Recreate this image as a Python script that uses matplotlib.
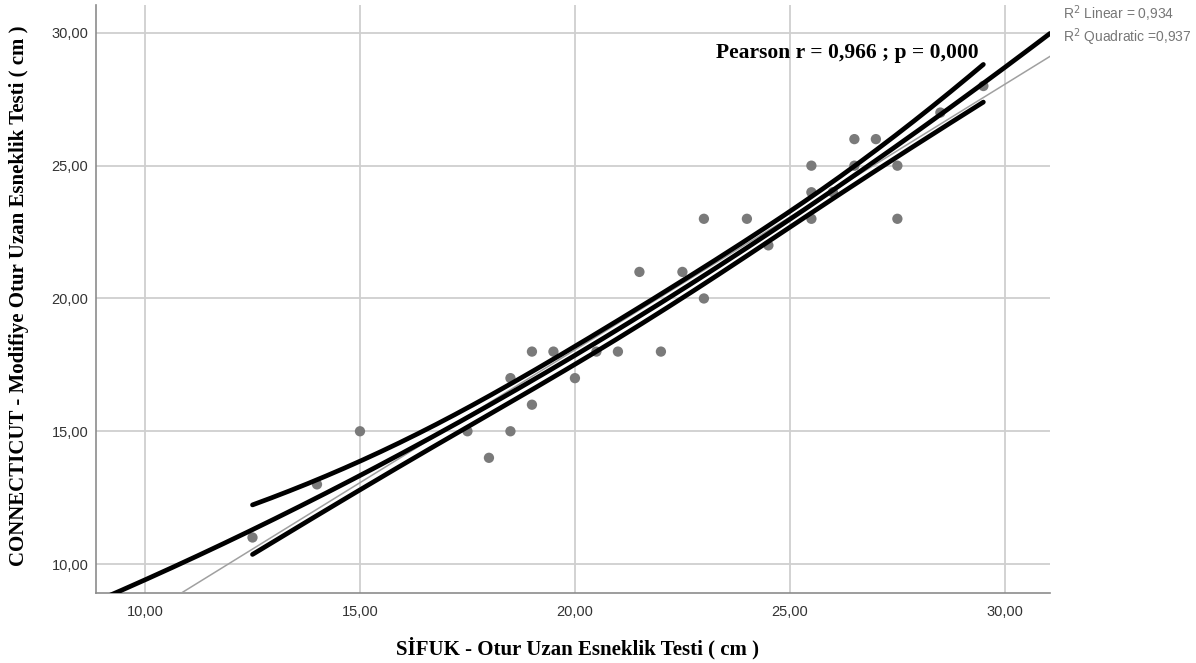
import numpy as np
import matplotlib
matplotlib.use("Agg")
import matplotlib.pyplot as plt
from matplotlib.ticker import FixedLocator, FuncFormatter

# ---- data ----
sifuk = [12.5, 14, 15, 17.5, 18, 18.5, 18.5, 19, 19, 19.5, 20, 20.5, 21, 21.5,
         22, 22.5, 23, 23, 24, 24.5, 25.5, 25.5, 25.5, 26, 26.5, 26.5, 27,
         27.5, 27.5, 28.5, 29.5]
connecticut = [11, 13, 15, 15, 14, 17, 15, 18, 16, 18, 17, 18, 18, 21,
               18, 21, 23, 20, 23, 22, 25, 24, 23, 24, 26, 25, 26,
               25, 23, 27, 28]
x_ticks = [10, 15, 20, 25, 30]
y_ticks = [10, 15, 20, 25, 30]
r2_linear_text = "0,934"
r2_quad_text = "0,937"
pearson_text = "Pearson r = 0,966 ; p = 0,000"

x = np.array(sifuk, dtype=float)
y = np.array(connecticut, dtype=float)
n = len(x)

# fits
lin = np.polyfit(x, y, 1)
quad = np.polyfit(x, y, 2)
X = np.column_stack([np.ones(n), x, x ** 2])
resid = y - np.polyval(quad, x)
s2 = (resid ** 2).sum() / (n - 3)
XtX_inv = np.linalg.inv(X.T @ X)
band_mult = 1.12

fig = plt.figure(figsize=(11.96, 6.63), dpi=100)
ax = fig.add_axes([96 / 1196, 1 - 593 / 663, (1050 - 96) / 1196, (593 - 5) / 663])
xlim = (8.86, 31.05)
ylim = (8.91, 31.05)
ax.set_xlim(*xlim)
ax.set_ylim(*ylim)

ax.grid(True, color="#cfcfcf", linewidth=1.3)
ax.set_axisbelow(True)
for side in ("top", "right"):
    ax.spines[side].set_visible(False)
for side in ("left", "bottom"):
    ax.spines[side].set_color("#8c8c8c")
    ax.spines[side].set_linewidth(1.2)

ax.xaxis.set_major_locator(FixedLocator(x_ticks))
ax.yaxis.set_major_locator(FixedLocator(y_ticks))
fmt = FuncFormatter(lambda v, p: f"{v:.2f}".replace(".", ","))
ax.xaxis.set_major_formatter(fmt)
ax.yaxis.set_major_formatter(fmt)
ax.tick_params(length=0, labelsize=10.5, labelcolor="#333333")
ax.tick_params(axis="x", pad=9)
ax.tick_params(axis="y", pad=5.5)
for lab in ax.get_xticklabels() + ax.get_yticklabels():
    lab.set_family("Liberation Sans")

ax.scatter(x, y, s=55, color="#7a7a7a", edgecolors="none", zorder=2)

xx_full = np.linspace(xlim[0], xlim[1], 300)
ax.plot(xx_full, np.polyval(lin, xx_full), color="#a0a0a0", linewidth=1.1, zorder=3)
ax.plot(xx_full, np.polyval(quad, xx_full), color="black", linewidth=3.4,
        solid_capstyle="round", zorder=4)

xx = np.linspace(x.min(), x.max(), 200)
X0 = np.column_stack([np.ones_like(xx), xx, xx ** 2])
se = np.sqrt(s2 * np.einsum("ij,jk,ik->i", X0, XtX_inv, X0))
yq = np.polyval(quad, xx)
ax.plot(xx, yq + band_mult * se, color="black", linewidth=3.4, solid_capstyle="round", zorder=4)
ax.plot(xx, yq - band_mult * se, color="black", linewidth=3.4, solid_capstyle="round", zorder=4)

ax.text((979 - 96) / 954, (593 - 53) / 588, pearson_text, transform=ax.transAxes,
        ha="right", va="center", fontsize=15.5, fontweight="bold",
        family="Liberation Serif", color="black")

fig.text(1063 / 1196, 1 - 14 / 663, "R$^2$ Linear = " + r2_linear_text,
         ha="left", va="center", fontsize=10, color="#777777", family="Liberation Sans")
fig.text(1063 / 1196, 1 - 37 / 663, "R$^2$ Quadratic =" + r2_quad_text,
         ha="left", va="center", fontsize=10, color="#777777", family="Liberation Sans")

ax.set_xlabel("SİFUK - Otur Uzan Esneklik Testi ( cm )", fontsize=15,
              fontweight="bold", family="Liberation Serif")
ax.xaxis.set_label_coords((578 - 96) / 954, (593 - 637) / 588)
ax.set_ylabel("CONNECTICUT - Modifiye Otur Uzan Esneklik Testi ( cm )", fontsize=15,
              fontweight="bold", family="Liberation Serif")
ax.yaxis.set_label_coords((29 - 96) / 954, (593 - 296) / 588)

fig.savefig("out.png", dpi=100)
